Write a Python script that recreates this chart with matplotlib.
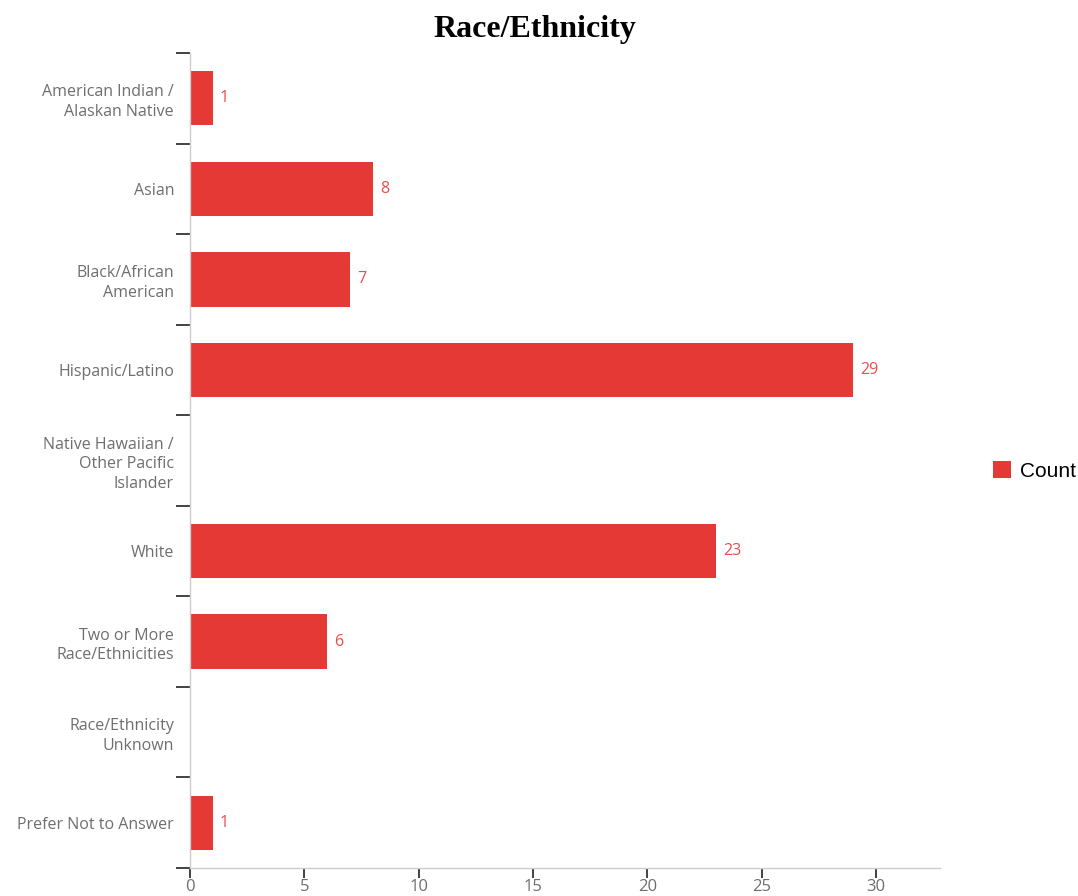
import matplotlib.pyplot as plt
import numpy as np

categories = [
    "American Indian /\nAlaskan Native",
    "Asian",
    "Black/African\nAmerican",
    "Hispanic/Latino",
    "Native Hawaiian /\nOther Pacific\nIslander",
    "White",
    "Two or More\nRace/Ethnicities",
    "Race/Ethnicity\nUnknown",
    "Prefer Not to Answer",
]
counts = [1, 8, 7, 29, 0, 23, 6, 0, 1]
x_ticks = [0, 5, 10, 15, 20, 25, 30]

bar_color = "#E53935"
label_color = "#EE4C4C"
text_gray = "#6E6E6E"

fig = plt.figure(figsize=(10.78, 8.96), dpi=100)
ax = fig.add_axes([190 / 1078, 1 - 868 / 896, 750 / 1078, 815 / 896])

y = np.arange(len(categories))
bars = ax.barh(y, counts, height=0.6, color=bar_color, label="Count", zorder=2)

for yi, v in zip(y, counts):
    if v > 0:
        ax.annotate(str(v), (v, yi), xytext=(5, 0), textcoords="offset points",
                    va="center", ha="left", color=label_color,
                    fontsize=11.5, family="Open Sans")

ax.set_xlim(0, 32.8)
ax.set_ylim(len(categories) - 0.5, -0.5)

ax.set_yticks(y)
ax.set_yticklabels(categories, fontsize=11.5, family="Open Sans", color=text_gray,
                   multialignment="right", linespacing=1.3)
ax.tick_params(axis="y", which="major", length=0, pad=11.5)
ax.set_yticks(np.arange(-0.5, len(categories) + 0.5, 1), minor=True)
ax.tick_params(axis="y", which="minor", length=10, width=1.2, color="#222222")

ax.set_xticks(x_ticks)
ax.set_xticklabels([str(t) for t in x_ticks], fontsize=12, family="Open Sans", color=text_gray)
ax.tick_params(axis="x", length=7, width=1.2, color="#222222", pad=1)

for side in ["top", "right"]:
    ax.spines[side].set_visible(False)
for side in ["left", "bottom"]:
    ax.spines[side].set_color("#CCCCCC")
    ax.spines[side].set_linewidth(1.0)

fig.text(535 / 1078, 1 - 29 / 896, "Race/Ethnicity", ha="center", va="center",
         fontsize=23, fontweight="bold", family="Liberation Serif")

fig.legend(handles=[bars], labels=["Count"], loc="center left",
           bbox_to_anchor=(993 / 1078, 1 - 471 / 896), frameon=False,
           prop={"family": "Liberation Sans", "size": 15},
           handlelength=0.85, handleheight=0.85, handletextpad=0.45,
           borderpad=0, borderaxespad=0)

fig.savefig("out.png", dpi=100)
